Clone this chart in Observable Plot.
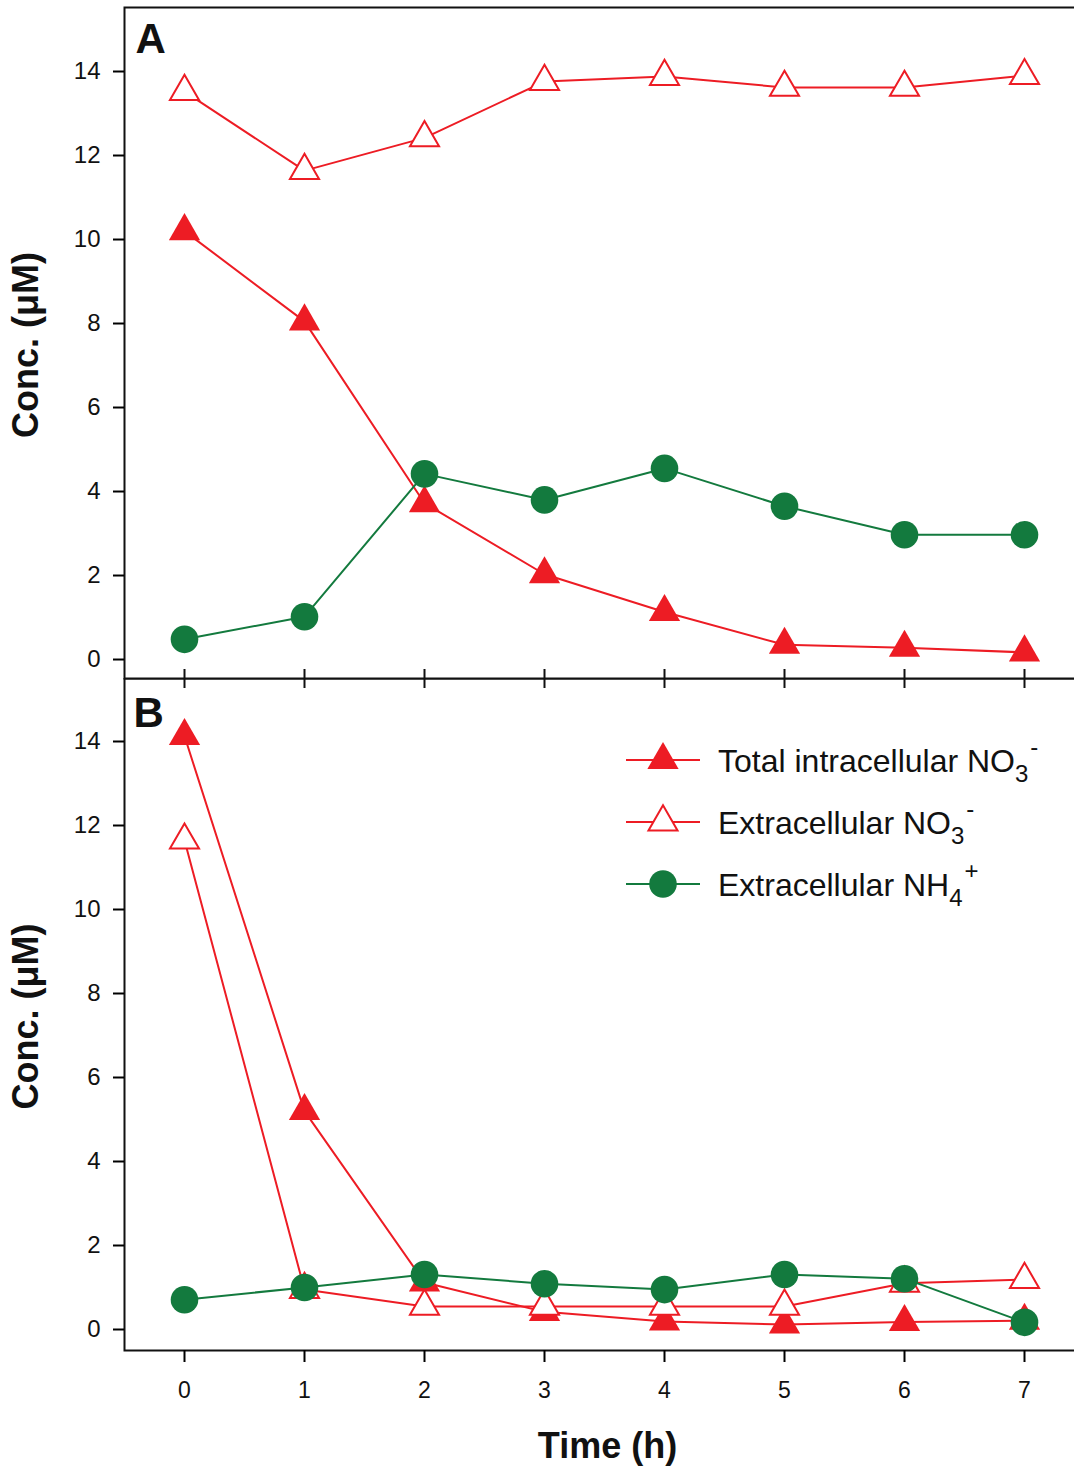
<!DOCTYPE html>
<html>
<head>
<meta charset="utf-8">
<script src="https://cdn.jsdelivr.net/npm/d3@7"></script>
<script src="https://cdn.jsdelivr.net/npm/@observablehq/plot@0.6"></script>
<style>
  html, body { margin: 0; padding: 0; background: #fff; }
  #wrap { position: relative; width: 1074px; height: 1468px; overflow: hidden; font-family: "Liberation Sans", Arial, Helvetica, sans-serif; }
  #wrap > .panel { position: absolute; left: 0; }
  #legend { position: absolute; left: 620px; top: 730px; }
</style>
</head>
<body>
<div id="wrap"></div>
<script>
// ---- Data ----
const hours = [0, 1, 2, 3, 4, 5, 6, 7];
const yTicks = [0, 2, 4, 6, 8, 10, 12, 14];

// Panel A
const aIntraNO3 = [10.2, 8.05, 3.72, 2.03, 1.13, 0.35, 0.28, 0.17];
const aExtraNO3 = [13.52, 11.64, 12.42, 13.76, 13.88, 13.62, 13.62, 13.9];
const aExtraNH4 = [0.48, 1.02, 4.42, 3.8, 4.55, 3.65, 2.97, 2.97];

// Panel B
const bIntraNO3 = [14.13, 5.2, 1.12, 0.42, 0.19, 0.12, 0.18, 0.21];
const bExtraNO3 = [11.65, 0.95, 0.55, 0.55, 0.55, 0.55, 1.1, 1.19];
const bExtraNH4 = [0.71, 1.0, 1.31, 1.09, 0.95, 1.31, 1.21, 0.17];

const panelLabels = ["A", "B"];
const seriesNames = ["Total intracellular NO", "Extracellular NO", "Extracellular NH"];
const seriesSubs = ["3", "3", "4"];
const seriesSups = ["-", "-", "+"];
const xLabel = "Time (h)";
const yLabel = "Conc. (\u03bcM)";

// ---- Styles ----
const RED = "#ed1c24";
const GREEN = "#137a3e";
const FONT = "'Liberation Sans', Arial, Helvetica, sans-serif";
const TRI_R = 11.6;
const CIRC_R = 13.8;

const rows = (vals) => hours.map((h, i) => ({h, v: vals[i]}));

function seriesMarks(intra, extra, nh4) {
  const di = rows(intra), de = rows(extra), dn = rows(nh4);
  return [
    Plot.line(di, {x: "h", y: "v", stroke: RED, strokeWidth: 2}),
    Plot.dot(di, {x: "h", y: "v", symbol: "triangle", r: TRI_R, fill: RED, stroke: "none"}),
    Plot.line(de, {x: "h", y: "v", stroke: RED, strokeWidth: 2}),
    Plot.dot(de, {x: "h", y: "v", symbol: "triangle", r: TRI_R - 0.8, fill: "white", stroke: RED, strokeWidth: 2}),
    Plot.line(dn, {x: "h", y: "v", stroke: GREEN, strokeWidth: 2}),
    Plot.dot(dn, {x: "h", y: "v", r: CIRC_R, fill: GREEN, stroke: "none"})
  ];
}

function yAxisMarks() {
  return [
    Plot.axisY({ticks: yTicks, tickSize: 11, tickPadding: 13, fontSize: 24, label: null, strokeWidth: 2, fill: "#111"}),
    Plot.text([yLabel], {frameAnchor: "left", textAnchor: "middle", lineAnchor: "middle", rotate: -90, dx: -98, dy: 2, fontSize: 36, fontWeight: "bold", fill: "#111"})
  ];
}

const common = {
  width: 1074,
  marginLeft: 124,
  marginRight: -10,
  style: {fontFamily: FONT, background: "transparent", overflow: "hidden"}
};

// Panel A
const plotA = Plot.plot({
  ...common,
  height: 690,
  marginTop: 7,
  marginBottom: 12,
  x: {domain: [-0.5, 7.5], axis: null},
  y: {domain: [-0.452, 15.524]},
  marks: [
    Plot.frame({stroke: "#111", strokeWidth: 2}),
    Plot.tickX(hours, {x: d => d, insetTop: 662, insetBottom: -10, stroke: "#111", strokeWidth: 2}),
    ...yAxisMarks(),
    Plot.text([panelLabels[0]], {frameAnchor: "top-left", textAnchor: "start", lineAnchor: "top", dx: 11, dy: 16, fontSize: 42, fontWeight: "bold", fill: "#111"}),
    ...seriesMarks(aIntraNO3, aExtraNO3, aExtraNH4)
  ]
});

// Panel B
const plotB = Plot.plot({
  ...common,
  height: 790,
  marginTop: 0,
  marginBottom: 118,
  x: {domain: [-0.5, 7.5]},
  y: {domain: [-0.5, 15.5]},
  marks: [
    Plot.frame({stroke: "#111", strokeWidth: 2}),
    Plot.axisX({ticks: hours, tickSize: 12, tickPadding: 19, fontSize: 23, label: null, strokeWidth: 2, fill: "#111"}),
    ...yAxisMarks(),
    Plot.text([xLabel], {frameAnchor: "bottom", textAnchor: "middle", lineAnchor: "top", dx: 3, dy: 82, fontSize: 36, fontWeight: "bold", fill: "#111"}),
    Plot.text([panelLabels[1]], {frameAnchor: "top-left", textAnchor: "start", lineAnchor: "top", dx: 9, dy: 19, fontSize: 42, fontWeight: "bold", fill: "#111"}),
    ...seriesMarks(bIntraNO3, bExtraNO3, bExtraNH4)
  ]
});

const wrap = document.getElementById("wrap");
plotB.classList.add("panel");
plotB.style.top = "678px";
plotB.style.zIndex = "1";
plotA.classList.add("panel");
plotA.style.top = "0px";
plotA.style.zIndex = "2";
wrap.appendChild(plotB);
wrap.appendChild(plotA);

// ---- Legend (inside panel B, top right) ----
const legendStyles = [
  {stroke: RED, sym: d3.symbolTriangle, r: TRI_R, fill: RED, mstroke: "none"},
  {stroke: RED, sym: d3.symbolTriangle, r: TRI_R - 0.8, fill: "white", mstroke: RED},
  {stroke: GREEN, sym: d3.symbolCircle, r: CIRC_R, fill: GREEN, mstroke: "none"}
];
const lg = d3.create("svg")
  .attr("id", "legend")
  .attr("width", 450).attr("height", 190)
  .style("font-family", FONT)
  .style("z-index", 3);
seriesNames.forEach((name, i) => {
  const s = legendStyles[i];
  const g = lg.append("g").attr("transform", `translate(0,${30 + i * 62})`);
  g.append("line").attr("x1", 6).attr("x2", 80).attr("y1", 0).attr("y2", 0)
    .attr("stroke", s.stroke).attr("stroke-width", 2);
  g.append("path").attr("transform", "translate(43,0)")
    .attr("d", d3.symbol(s.sym, s.r * s.r * Math.PI)())
    .attr("fill", s.fill).attr("stroke", s.mstroke).attr("stroke-width", 2);
  const t = g.append("text").attr("x", 98).attr("y", 12).attr("font-size", 32).attr("fill", "#111");
  t.append("tspan").text(name);
  t.append("tspan").attr("dy", 10).attr("font-size", 24).text(seriesSubs[i]);
  t.append("tspan").attr("dy", -27).attr("dx", 2).attr("font-size", 24).text(seriesSups[i]);
});
wrap.appendChild(lg.node());
</script>
</body>
</html>
